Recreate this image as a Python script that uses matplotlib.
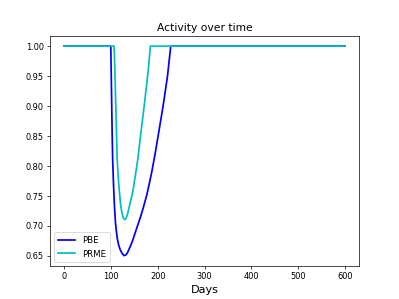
import matplotlib
matplotlib.use('Agg')
import matplotlib.pyplot as plt

# values
pbe_days = [0, 100, 101, 102, 103, 104, 106, 108, 110, 112, 114, 117, 120, 124,
            128, 132, 135, 138, 142, 147, 152, 158, 164, 169, 177, 183, 188,
            195, 201, 207, 213, 221, 228, 600]
pbe_act = [1.0, 1.0, 0.95, 0.90, 0.85, 0.81, 0.765, 0.73, 0.705, 0.69, 0.678,
           0.667, 0.66, 0.654, 0.65, 0.651, 0.654, 0.659, 0.666, 0.676, 0.688,
           0.702, 0.716, 0.729, 0.752, 0.773, 0.792, 0.822, 0.85, 0.878, 0.907,
           0.95, 1.0, 1.0]

prme_days = [0, 107, 108, 110, 112, 113.6, 116, 118.5, 121, 123, 126, 129.5,
             133, 136, 138, 142, 147, 151, 157.5, 165, 172, 180, 184.5, 600]
prme_act = [1.0, 1.0, 0.98, 0.92, 0.86, 0.81, 0.78, 0.755, 0.735, 0.725, 0.714,
            0.71, 0.713, 0.72, 0.727, 0.74, 0.757, 0.777, 0.81, 0.86, 0.905,
            0.96, 1.0, 1.0]

fig, ax = plt.subplots(figsize=(6.4, 4.8), dpi=62.35)
ax.plot(pbe_days, pbe_act, color='b', linewidth=2, label='PBE')
ax.plot(prme_days, prme_act, color='c', linewidth=2, label='PRME')
ax.set_title('Activity over time', fontsize=12.5)
ax.set_xlabel('Days', fontsize=13)
ax.tick_params(labelsize=9.5)
ax.legend(loc='lower left', fontsize=10)
fig.savefig('out.png', dpi=62.35)
